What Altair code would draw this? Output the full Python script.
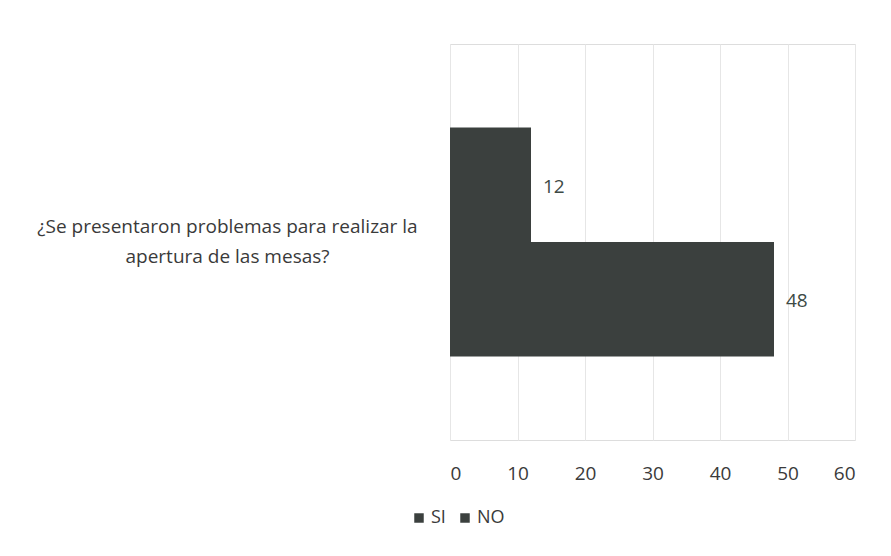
import altair as alt
import pandas as pd

categoria = ["¿Se presentaron problemas para realizar la|apertura de las mesas?"]
series = ["SI", "NO"]
valores = [12, 48]
x_ticks = [0, 10, 20, 30, 40, 50, 60]

df = pd.DataFrame({
    "pregunta": [categoria[0]] * len(series),
    "serie": series,
    "valor": valores,
})

BAR = "#3b403e"
TXT = "#3a3a3a"
FONT = "Open Sans"

base = alt.Chart(df).encode(
    y=alt.Y("pregunta:N", title=None,
            scale=alt.Scale(paddingInner=0, paddingOuter=0.365),
            axis=alt.Axis(labelExpr="split(datum.label, '|')", labelAlign="center",
                          labelPadding=223, ticks=False, domain=False, labelOffset=-15,
                          labelFontSize=19, labelLineHeight=30, labelColor=TXT,
                          labelFont=FONT, labelLimit=500, labelBaseline="middle")),
    yOffset=alt.YOffset("serie:N", sort=series,
                        scale=alt.Scale(paddingInner=0, paddingOuter=0)),
)

bars = base.mark_bar(color=BAR).encode(
    x=alt.X("valor:Q", title=None,
            scale=alt.Scale(domain=[0, 60], nice=False),
            axis=alt.Axis(values=x_ticks, grid=True, gridColor="#e6e6e6",
                          domain=False, ticks=False, labelPadding=24,
                          labelFontSize=19, labelColor=TXT, labelFont=FONT)),
    color=alt.Color("serie:N", sort=series,
                    scale=alt.Scale(domain=series, range=[BAR, BAR]),
                    legend=alt.Legend(title=None, orient="none", direction="horizontal",
                                      legendX=-40, legendY=465,
                                      symbolType="square", symbolSize=90,
                                      labelFontSize=18, labelColor=TXT, labelFont=FONT,
                                      columnPadding=10, labelOffset=3)),
)

labels = base.mark_text(align="left", dx=12, dy=2, fontSize=19, font=FONT, color="#3d4a45").encode(
    x="valor:Q",
    text="valor:Q",
)

chart = (bars + labels).properties(
    width=405, height=396,
    autosize=alt.AutoSizeParams(type="none"),
    padding={"left": 442, "top": 36, "right": 28, "bottom": 100},
).configure_view(stroke=None).configure(background="white")

chart.save("out.html", embed_options={"renderer": "svg", "actions": False})
